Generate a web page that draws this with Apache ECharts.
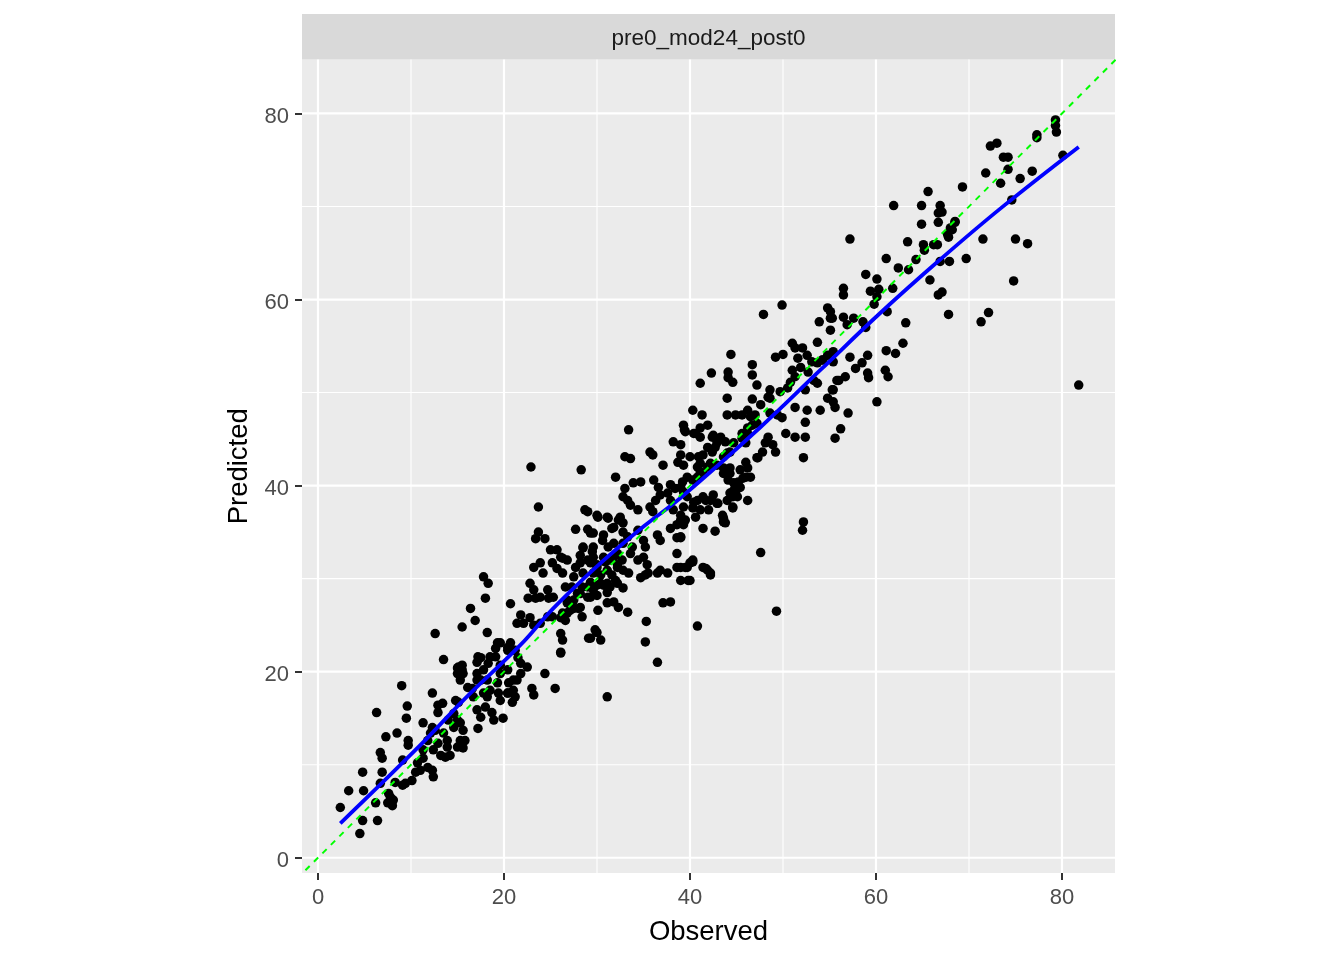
<!DOCTYPE html>
<html>
<head>
<meta charset="utf-8">
<script src="https://cdn.jsdelivr.net/npm/echarts@6/dist/echarts.min.js"></script>
<style>
html,body{margin:0;padding:0;background:#fff;}
#chart{width:1344px;height:960px;}
</style>
</head>
<body>
<div id="chart"></div>
<script>
var stripLabel = 'pre0_mod24_post0';
var xTitle = 'Observed';
var yTitle = 'Predicted';
var majorTicks = [0, 20, 40, 60, 80];
var minorTicks = [10, 30, 50, 70];
var xRange = [-1.72, 85.7];
var yRange = [-1.64, 85.8];

// [observed, predicted]
var points = [
[2.4,5.4],[4.5,2.6],[4.8,4.0],[6.4,4.0],[3.3,7.2],[4.9,7.2],[6.2,5.9],[7.5,5.9],[7.8,6.5],[8.0,5.6],
[8.1,6.2],[7.6,6.9],[4.8,9.2],[6.9,9.2],[6.7,8.0],[8.3,8.1],[9.1,7.8],[6.7,11.3],[6.9,10.7],[9.1,10.5],
[8.5,13.4],[7.3,13.0],[9.7,12.6],[9.7,12.1],[9.0,18.5],[6.3,15.6],[9.6,16.3],[9.5,15.0],[10.7,10.2],[11.0,9.4],
[10.5,9.2],[11.3,10.7],[11.8,9.7],[12.3,9.4],[12.4,8.7],[10.1,8.3],[9.4,8.0],[11.3,14.5],[12.3,14.0],[12.1,13.4],
[11.8,12.6],[12.6,13.7],[13.5,13.4],[13.9,12.6],[12.9,12.3],[12.4,11.6],[11.3,11.6],[12.3,17.7],[12.9,16.4],[13.4,16.6],
[12.9,15.6],[13.5,21.3],[14.6,15.5],[15.0,14.8],[15.3,14.5],[15.6,13.7],[14.6,14.0],[14.0,14.8],[15.3,12.6],[15.8,12.6],
[15.0,11.9],[13.9,11.9],[14.2,11.0],[13.7,10.8],[13.2,11.0],[15.6,11.8],[14.8,16.9],[15.1,16.7],[15.1,20.5],[15.5,20.7],
[15.6,19.8],[15.0,19.8],[17.1,21.0],[17.5,21.5],[18.5,21.6],[19.1,21.6],[19.6,20.7],[17.1,19.8],[17.5,19.1],[16.1,18.3],
[16.6,18.2],[16.7,17.3],[17.8,17.7],[18.2,17.3],[18.0,16.2],[17.1,15.9],[17.5,15.1],[18.7,15.6],[18.9,14.8],[19.9,15.0],
[17.2,13.9],[19.1,22.5],[19.6,23.1],[20.4,22.6],[21.0,22.3],[21.5,21.5],[19.6,19.8],[20.4,20.2],[20.5,18.8],[21.0,18.0],
[20.4,17.7],[19.6,16.9],[21.4,19.1],[20.9,16.7],[21.2,17.3],
[22.9,42.0],[28.3,41.7],[32.0,40.9],[23.7,37.7],[29.0,37.2],[30.1,36.6],[31.2,36.5],[32.3,36.3],[23.7,35.0],[23.4,34.3],
[24.4,34.3],[27.7,35.3],[29.0,35.3],[29.6,34.9],[30.7,34.7],[31.6,35.4],[25.0,33.1],[25.7,33.1],[26.3,32.2],[28.5,33.3],
[29.5,32.9],[29.0,32.0],[28.2,31.7],[23.2,31.2],[23.9,31.7],[24.2,30.6],[25.2,31.7],[25.7,31.1],[17.8,30.2],[18.3,29.5],
[18.0,27.9],[16.4,26.8],[16.9,25.5],[15.5,24.8],[18.2,24.2],[12.6,24.1],[20.7,27.3],[22.8,29.5],[23.2,28.8],[22.6,27.9],
[23.4,27.9],[23.9,28.0],[24.7,28.8],[24.8,27.9],[25.3,28.0],[21.8,26.1],[22.1,25.2],[21.4,25.2],[22.8,25.8],[23.2,25.0],
[23.9,25.2],[24.7,25.9],[25.2,25.9],[26.1,25.8],[26.8,26.3],[27.5,26.8],[28.2,26.9],[29.0,28.0],[26.8,27.7],[27.9,28.4],
[29.0,29.1],[29.6,28.8],[29.3,29.6],[30.4,29.5],[31.1,29.5],[32.0,29.8],[31.1,28.5],[29.6,30.6],[30.4,30.4],[30.0,31.5],
[30.9,31.8],[31.8,32.3],[32.2,31.5],[31.1,30.9],[29.1,23.6],[30.0,24.2],[30.4,23.4],[26.1,22.1],[24.4,19.8],[25.5,18.2],
[20.7,23.1],[21.2,22.3],[20.4,22.3],[19.3,23.1],[21.8,20.9],[22.5,20.5],[21.8,19.8],[21.0,19.1],[23.0,18.2],[23.2,17.5],
[17.2,21.6],[18.3,20.9],[17.8,20.2],[15.0,20.4],[15.5,20.2],[15.3,19.1],[17.1,19.1],[18.2,19.1],[19.3,18.8],[18.5,18.0],
[19.4,17.7],[20.4,17.7],[31.1,17.3],
[33.4,46.0],[39.3,46.5],[39.4,46.0],[40.6,45.6],[41.1,46.2],[41.9,46.5],[42.5,45.4],[43.3,45.2],[42.9,44.6],[41.9,44.1],
[42.4,43.6],[43.8,44.7],[44.7,44.6],[45.6,45.6],[38.2,44.7],[39.0,44.4],[35.7,43.6],[36.0,43.3],[33.0,43.1],[33.6,42.9],
[39.0,43.3],[38.7,42.5],[39.3,42.2],[37.1,42.2],[34.7,40.4],[33.9,40.3],[33.0,39.7],[32.8,38.8],[33.3,38.4],[33.6,37.9],
[34.4,37.4],[36.1,40.6],[36.6,39.8],[36.8,39.0],[36.3,38.4],[35.7,37.7],[36.0,37.2],[37.9,40.1],[38.4,39.7],[39.2,40.4],
[39.7,40.9],[40.3,40.6],[40.8,40.9],[41.1,41.5],[41.4,41.3],[42.0,42.0],[42.9,42.2],[43.6,41.9],[44.3,41.9],[45.4,41.7],
[46.0,40.9],[46.5,40.9],[46.2,41.9],[46.0,42.5],[47.2,43.0],[37.6,39.2],[37.9,38.4],[38.2,37.4],[39.0,36.8],[39.5,36.3],
[38.6,35.8],[37.9,35.4],[40.8,38.4],[41.4,38.8],[42.2,38.4],[42.5,39.0],[43.0,38.1],[44.0,38.4],[44.6,37.7],[45.1,38.8],
[44.7,39.5],[44.3,39.2],[46.2,38.4],[40.6,36.6],[41.4,35.4],[42.7,35.1],[43.6,36.5],[43.8,36.0],[47.6,32.8],[38.6,32.7],
[38.6,31.2],[39.5,31.2],[40.0,31.7],[40.3,32.0],[39.8,29.8],[41.4,31.2],[41.9,30.9],[42.2,30.6],[40.8,24.9],[37.1,27.4],
[37.9,27.5],[35.3,25.4],[35.2,23.2],[36.5,21.0],[36.8,30.9],[37.6,30.6],[36.5,30.6],[34.7,30.1],[35.2,30.4],[35.5,30.6],
[35.0,32.3],[34.4,32.0],[35.4,31.5],[36.5,34.7],[36.8,34.1],[38.6,34.4],[39.0,34.5],[34.4,35.2],[35.0,34.1],[35.2,33.4],
[32.8,35.0],[33.3,34.5],[32.8,33.8],[33.8,33.4],[33.6,32.7],[28.7,37.4],[29.3,34.9],[30.0,36.8],[31.1,36.6],[31.8,35.5],
[32.5,36.6],[32.8,36.0],[28.5,33.4],[29.6,33.4],[30.6,34.1],[31.2,33.4],[31.8,33.8],[32.2,32.7],[31.4,32.0],[30.7,32.3],
[29.6,32.3],[28.2,32.5],[26.8,32.0],[27.7,31.2],[27.5,30.2],[28.5,30.6],[29.3,31.7],[30.0,31.2],[31.6,30.4],[32.2,31.2],
[32.8,30.9],[33.4,30.6],[32.7,32.0],[26.1,32.3],[26.3,30.6],[26.6,29.1],[27.3,29.1],[28.4,29.1],[30.0,29.3],[30.7,29.3],
[31.4,29.1],[32.2,29.5],[32.8,29.0],[29.3,28.0],[30.0,28.2],[31.1,27.4],[31.8,27.5],[32.3,26.9],[33.3,26.4],[30.1,26.6],
[28.2,28.4],[27.5,27.7],[26.8,27.4],[26.3,26.3],[26.6,25.5],[26.1,24.1],[26.3,23.4],[26.1,22.0],[27.1,26.6],[28.0,26.8],
[28.4,25.9],[29.8,24.5],[29.3,23.6],
[49.9,59.4],[47.9,58.4],[55.3,58.0],[53.9,57.6],[55.1,56.7],[53.7,55.4],[51.0,55.3],[51.3,54.8],[52.1,54.8],[44.4,54.1],
[49.2,53.8],[50.0,54.1],[51.6,53.7],[52.6,54.0],[53.1,53.3],[53.7,53.2],[54.2,53.5],[46.7,53.0],[46.7,51.9],[42.3,52.1],
[44.1,52.2],[44.1,51.6],[44.6,51.1],[41.1,51.0],[47.2,50.8],[51.0,52.4],[51.3,51.7],[50.8,51.1],[50.5,50.5],[49.7,50.1],
[48.6,50.3],[48.4,49.5],[51.9,52.7],[52.7,52.2],[53.3,51.3],[53.7,51.0],[52.4,50.3],[55.8,51.3],[55.3,50.3],[44.0,49.4],
[46.7,49.3],[47.6,48.7],[48.6,49.4],[40.3,48.1],[41.3,47.6],[44.0,47.6],[44.9,47.6],[45.6,47.6],[46.2,48.1],[46.5,47.4],
[47.0,47.6],[47.2,46.7],[46.7,46.5],[46.2,46.2],[48.6,47.8],[49.4,47.6],[49.9,47.3],[51.3,48.4],[52.6,48.1],[52.4,46.8],
[54.0,48.1],[39.5,45.8],[40.4,45.6],[41.1,45.2],[42.4,45.2],[42.7,44.1],[46.2,45.6],[45.6,45.1],[46.0,44.6],[48.4,45.2],
[48.9,44.4],[48.1,44.6],[47.8,43.6],[47.3,43.0],[49.2,43.6],[50.3,45.6],[51.3,45.2],[52.4,45.2],[52.2,43.0],[56.2,46.1],
[55.6,45.1],[40.0,43.1],[40.9,43.1],[41.4,43.3],[41.1,42.4],[40.8,42.0],[41.9,42.0],[42.2,42.4],[43.6,43.1],[44.0,43.5],
[44.3,43.6],[43.6,41.3],[44.3,41.3],[44.1,40.6],[44.7,40.3],[45.2,40.4],[45.7,40.8],[45.4,39.8],[44.9,39.3],[44.6,38.8],
[39.0,39.8],[39.3,39.3],[39.7,38.8],[40.4,38.2],[39.3,37.7],[40.3,37.6],[41.7,38.4],[42.9,38.1],[42.0,37.4],[41.1,37.4],
[43.5,36.8],[43.6,36.1],[44.6,37.6],[39.0,36.3],[39.3,35.8],[39.0,34.4],[52.2,36.1],[52.1,35.2],[40.3,31.8],[39.7,31.2],
[40.0,29.8],[41.7,31.1],[42.2,30.4],[39.0,31.2],[39.0,29.8],[49.3,26.5],
[65.6,71.6],[61.9,70.1],[64.9,70.1],[66.9,70.1],[66.7,69.3],[66.7,68.3],[64.9,68.1],[68.5,68.3],[68.2,67.5],[67.7,67.0],
[67.8,66.7],[57.2,66.5],[63.4,66.2],[65.1,65.9],[65.2,65.3],[66.2,65.9],[66.6,65.9],[71.5,66.5],[61.1,64.4],[64.3,64.3],
[66.9,64.1],[67.9,64.1],[69.7,64.4],[62.4,63.4],[63.5,63.2],[58.9,62.7],[60.1,62.2],[65.8,62.1],[56.5,61.2],[56.5,60.5],
[59.4,60.9],[60.3,61.1],[60.1,60.3],[59.8,59.5],[61.8,61.2],[66.7,60.5],[67.1,60.8],[54.8,59.1],[55.1,58.7],[55.1,58.0],
[56.5,58.1],[56.9,57.3],[57.6,58.0],[58.6,57.6],[58.9,57.0],[61.2,58.7],[63.2,57.5],[67.8,58.4],[71.3,57.6],[72.1,58.6],
[62.9,55.3],[55.4,54.4],[54.8,54.0],[54.3,53.5],[55.4,53.3],[57.2,53.8],[59.1,54.0],[61.1,54.5],[62.1,54.2],[57.8,52.6],
[58.5,53.2],[59.1,52.1],[59.2,51.6],[61.0,52.4],[61.3,51.7],[56.0,51.3],[56.7,51.7],[55.4,50.3],[54.8,49.4],[55.4,49.0],
[55.6,48.4],[60.1,49.0],[57.0,47.8],
[79.3,79.3],[79.3,78.7],[79.4,78.0],[77.3,77.7],[77.3,77.4],[72.3,76.5],[73.0,76.8],[73.7,75.3],[74.2,75.3],[71.8,73.6],
[74.2,74.0],[75.5,73.0],[76.8,73.8],[73.4,72.5],[69.3,72.1],[74.6,70.7],[80.1,75.5],[67.1,69.4],[68.5,68.4],[68.0,67.7],
[75.0,66.5],[76.3,66.0],[74.8,62.0],[81.8,50.8]
];

// smoothed fit
var smoothObs  = [2.4, 11.0, 15.7, 21.8, 25.3, 30.2, 35.0, 39.0, 47.6, 54.0, 60.4, 66.9, 73.4, 81.8];
var smoothPred = [3.7, 12.1, 17.0, 22.9, 26.8, 31.5, 35.6, 38.7, 46.3, 52.4, 58.5, 64.3, 69.8, 76.4];

var identityEnds = [-5, 90];

var chart = echarts.init(document.getElementById('chart'), null, {renderer: 'canvas'});
var FONT = 'Liberation Sans, Arial, sans-serif';

function gridSeries(vals, width) {
  var out = [];
  vals.forEach(function (v) {
    out.push({type: 'line', z: 1, silent: true, showSymbol: false, clip: true,
      data: [[v, yRange[0]], [v, yRange[1]]], lineStyle: {color: '#ffffff', width: width}});
    out.push({type: 'line', z: 1, silent: true, showSymbol: false, clip: true,
      data: [[xRange[0], v], [xRange[1], v]], lineStyle: {color: '#ffffff', width: width}});
  });
  return out;
}

var option = {
  backgroundColor: '#ffffff',
  animation: false,
  grid: {
    left: 302, top: 59.5, width: 813, height: 813.5,
    show: true, backgroundColor: '#EBEBEB', borderWidth: 0
  },
  graphic: [
    {type: 'rect', left: 302, top: 14, z: 0, shape: {width: 813, height: 45.5}, style: {fill: '#D9D9D9'}, silent: true},
    {type: 'text', x: 708.5, y: 39, z: 1, style: {text: stripLabel, fill: '#1A1A1A', font: '22.5px ' + FONT, textAlign: 'center', textVerticalAlign: 'middle'}, silent: true}
  ],
  xAxis: {
    type: 'value', min: xRange[0], max: xRange[1],
    name: xTitle, nameLocation: 'middle', nameGap: 45,
    nameTextStyle: {color: '#000000', fontSize: 27.5, fontFamily: FONT},
    axisLine: {show: false, onZero: false},
    axisTick: {show: true, customValues: majorTicks, length: 7, lineStyle: {color: '#333333', width: 2}},
    axisLabel: {customValues: majorTicks, color: '#4D4D4D', fontSize: 22, fontFamily: FONT, margin: 14},
    splitLine: {show: false}
  },
  yAxis: {
    type: 'value', min: yRange[0], max: yRange[1],
    name: yTitle, nameLocation: 'middle', nameGap: 39, nameRotate: 90,
    nameTextStyle: {color: '#000000', fontSize: 27.5, fontFamily: FONT},
    axisLine: {show: false, onZero: false},
    axisTick: {show: true, customValues: majorTicks, length: 7, lineStyle: {color: '#333333', width: 2}},
    axisLabel: {customValues: majorTicks, color: '#4D4D4D', fontSize: 22, fontFamily: FONT, margin: 13,
      verticalAlign: 'top', lineHeight: 6},
    splitLine: {show: false}
  },
  series: gridSeries(minorTicks, 1.1).concat(gridSeries(majorTicks, 2.2)).concat([
    {
      type: 'scatter', z: 3, data: points, symbol: 'circle', symbolSize: 9.5,
      itemStyle: {color: '#000000', opacity: 1}, silent: true
    },
    {
      type: 'line', z: 4, data: smoothObs.map(function (x, i) { return [x, smoothPred[i]]; }),
      showSymbol: false, smooth: 0.4, lineStyle: {color: '#0000FF', width: 3.8}, silent: true
    },
    {
      type: 'line', z: 5, data: identityEnds.map(function (v) { return [v, v]; }), clip: true,
      showSymbol: false, lineStyle: {color: '#00FF00', width: 2, type: [6, 6]}, silent: true
    }
  ])
};
chart.setOption(option);
</script>
</body>
</html>
